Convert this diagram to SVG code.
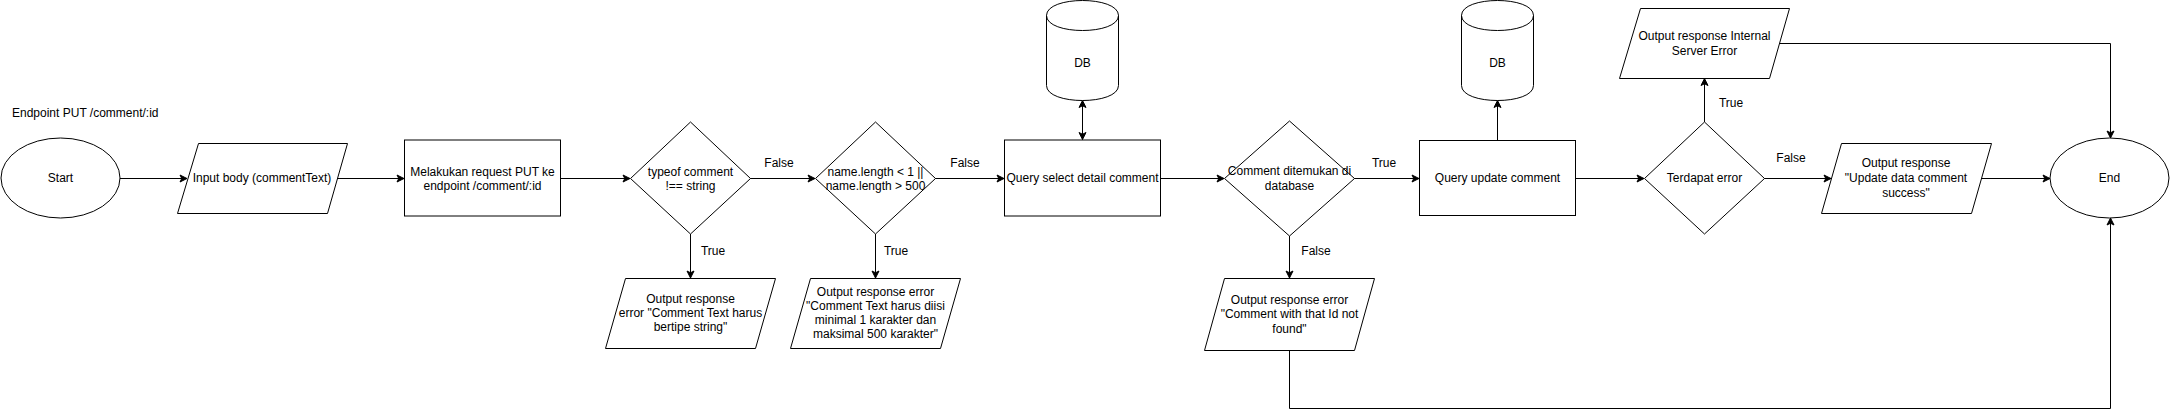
<svg xmlns="http://www.w3.org/2000/svg" width="2170" height="418" viewBox="0 0 2170 418">
<style>
.s{fill:#fff;stroke:#000;stroke-width:1}
.c{fill:none;stroke:#000;stroke-width:1}
text{font-family:"Liberation Sans",Arial,sans-serif;font-size:12px;fill:#000}
.m{text-anchor:middle}
</style>
<defs>
<marker id="a" markerUnits="userSpaceOnUse" markerWidth="8" markerHeight="8" refX="7" refY="3.5" orient="auto-start-reverse" overflow="visible">
<path d="M7,3.5 L0,7 L1.75,3.5 L0,0 Z" fill="#000" stroke="#000" stroke-width="1"/>
</marker>
</defs>
<rect width="2170" height="418" fill="#fff"/>
<text id="title" x="12" y="117">Endpoint PUT /comment/:id</text>
<g id="connectors">
<path class="c" d="M120,178.5 H187" marker-end="url(#a)"/>
<path class="c" d="M337,178.5 H404" marker-end="url(#a)"/>
<path class="c" d="M560.5,178.5 H630" marker-end="url(#a)"/>
<path class="c" d="M750,178.5 H815" marker-end="url(#a)"/>
<path class="c" d="M935,178.5 H1004" marker-end="url(#a)"/>
<path class="c" d="M690.5,234 V278" marker-end="url(#a)"/>
<path class="c" d="M875.5,234 V278" marker-end="url(#a)"/>
<path class="c" d="M1082.5,100.5 V139.5" marker-start="url(#a)" marker-end="url(#a)"/>
<path class="c" d="M1160.5,178.5 H1224" marker-end="url(#a)"/>
<path class="c" d="M1354,178.5 H1419" marker-end="url(#a)"/>
<path class="c" d="M1289.5,236 V278" marker-end="url(#a)"/>
<path class="c" d="M1497.5,140.5 V100.5" marker-end="url(#a)"/>
<path class="c" d="M1575.5,178.5 H1644" marker-end="url(#a)"/>
<path class="c" d="M1704.5,122 V78.5" marker-end="url(#a)"/>
<path class="c" d="M1764,178.5 H1831" marker-end="url(#a)"/>
<path class="c" d="M1981,178.5 H2050" marker-end="url(#a)"/>
<path class="c" d="M1779.5,43.5 H2110.5 V138" marker-end="url(#a)"/>
<path class="c" d="M1289.5,350 V408.5 H2110.5 V218" marker-end="url(#a)"/>
</g>
<g id="labels">
<text class="m" x="779" y="167">False</text>
<text class="m" x="713" y="255">True</text>
<text class="m" x="965" y="167">False</text>
<text class="m" x="896" y="255">True</text>
<text class="m" x="1384" y="167">True</text>
<text class="m" x="1316" y="255">False</text>
<text class="m" x="1731" y="107">True</text>
<text class="m" x="1791" y="162">False</text>
</g>
<g id="start">
<ellipse class="s" cx="60.5" cy="178" rx="59.5" ry="40"/>
<text class="m" x="60.5" y="182">Start</text>
</g>
<g id="input">
<polygon class="s" points="198.5,143.5 347.5,143.5 327.5,213.5 177.5,213.5"/>
<text class="m" x="262" y="182">Input body (commentText)</text>
</g>
<g id="request">
<rect class="s" x="404.5" y="140" width="156" height="76"/>
<text class="m" x="482.5" y="175.5">Melakukan request PUT ke</text>
<text class="m" x="482.5" y="190">endpoint /comment/:id</text>
</g>
<g id="dec1">
<polygon class="s" points="690.5,122 750.5,178.5 690.5,234 630.5,178.5"/>
<text class="m" x="690.5" y="175.5">typeof comment</text>
<text class="m" x="690.5" y="190">!== string</text>
</g>
<g id="dec2">
<polygon class="s" points="875.5,122 935.5,178.5 875.5,234 815.5,178.5"/>
<text class="m" x="875.5" y="175.5">name.length &lt; 1 ||</text>
<text class="m" x="875.5" y="190">name.length &gt; 500</text>
</g>
<g id="out1">
<polygon class="s" points="625.5,278.5 775.5,278.5 755.5,348.5 605.5,348.5"/>
<text class="m" x="690.5" y="303">Output response</text>
<text class="m" x="690.5" y="317">error "Comment Text harus</text>
<text class="m" x="690.5" y="331">bertipe string"</text>
</g>
<g id="out2">
<polygon class="s" points="810.5,278.5 960.5,278.5 940.5,348.5 790.5,348.5"/>
<text class="m" x="875.5" y="296">Output response error</text>
<text class="m" x="875.5" y="310">"Comment Text harus diisi</text>
<text class="m" x="875.5" y="324">minimal 1 karakter dan</text>
<text class="m" x="875.5" y="338">maksimal 500 karakter"</text>
</g>
<g id="db1">
<path class="s" d="M1046.5,15.5 C1046.5,-4.5 1118.5,-4.5 1118.5,15.5 V85.5 C1118.5,105.5 1046.5,105.5 1046.5,85.5 Z"/>
<path class="c" d="M1046.5,15.5 C1046.5,35.5 1118.5,35.5 1118.5,15.5"/>
<text class="m" x="1082.5" y="67">DB</text>
</g>
<g id="select">
<rect class="s" x="1004.5" y="140" width="156" height="76"/>
<text class="m" x="1082.5" y="182">Query select detail comment</text>
</g>
<g id="dec3">
<polygon class="s" points="1289.5,121 1354.5,178.5 1289.5,236 1224.5,178.5"/>
<text class="m" x="1289.5" y="175">Comment ditemukan di</text>
<text class="m" x="1289.5" y="189.5">database</text>
</g>
<g id="out3">
<polygon class="s" points="1224.5,278.5 1374.5,278.5 1354.5,350.5 1204.5,350.5"/>
<text class="m" x="1289.5" y="304">Output response error</text>
<text class="m" x="1289.5" y="318">"Comment with that Id not</text>
<text class="m" x="1289.5" y="332.5">found"</text>
</g>
<g id="update">
<rect class="s" x="1419.5" y="140.5" width="156" height="75"/>
<text class="m" x="1497.5" y="182">Query update comment</text>
</g>
<g id="db2">
<path class="s" d="M1461.5,15.5 C1461.5,-4.5 1533.5,-4.5 1533.5,15.5 V85.5 C1533.5,105.5 1461.5,105.5 1461.5,85.5 Z"/>
<path class="c" d="M1461.5,15.5 C1461.5,35.5 1533.5,35.5 1533.5,15.5"/>
<text class="m" x="1497.5" y="67">DB</text>
</g>
<g id="dec4">
<polygon class="s" points="1704.5,122 1764.5,178.5 1704.5,234 1644.5,178.5"/>
<text class="m" x="1704.5" y="182">Terdapat error</text>
</g>
<g id="out4">
<polygon class="s" points="1640.5,8.5 1789.5,8.5 1769.5,78.5 1619.5,78.5"/>
<text class="m" x="1704.5" y="40">Output response Internal</text>
<text class="m" x="1704.5" y="55">Server Error</text>
</g>
<g id="out5">
<polygon class="s" points="1841.5,143.5 1991.5,143.5 1971.5,213.5 1821.5,213.5"/>
<text class="m" x="1906" y="167">Output response</text>
<text class="m" x="1906" y="182">"Update data comment</text>
<text class="m" x="1906" y="197">success"</text>
</g>
<g id="end">
<ellipse class="s" cx="2109.5" cy="178" rx="59.5" ry="40"/>
<text class="m" x="2109.5" y="182">End</text>
</g>
</svg>
